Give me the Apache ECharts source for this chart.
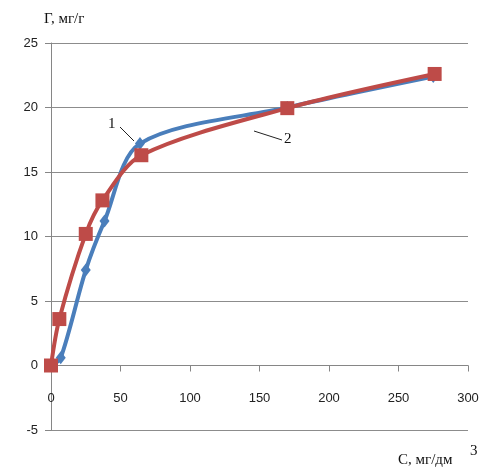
<!DOCTYPE html>
<html>
<head>
<meta charset="utf-8">
<script src="https://cdn.jsdelivr.net/npm/echarts@6/dist/echarts.min.js"></script>
<style>html,body{margin:0;padding:0;background:#fff}#c{width:489px;height:473px}</style>
</head>
<body>
<div id="c"></div>
<script>
var xTicks = [0, 50, 100, 150, 200, 250, 300];
var yTicks = [-5, 0, 5, 10, 15, 20, 25];
var s1X = [0, 7, 25, 38.5, 64, 170, 275];
var s1Y = [0, 0.6, 7.4, 11.2, 17.2, 20, 22.4];
var s2X = [0, 6, 25, 37, 65, 170, 276];
var s2Y = [0, 3.6, 10.2, 12.8, 16.3, 19.95, 22.6];
var seriesNames = ['1', '2'];

function pairs(xs, ys) { return xs.map(function (x, i) { return [x, ys[i]]; }); }

var gridTop = 43, gridBottom = 43, H = 473;
var plotH = H - gridTop - gridBottom;
var yMin = yTicks[0], yMax = yTicks[yTicks.length - 1];
var zeroOffset = -plotH * (0 - yMin) / (yMax - yMin);

var chart = echarts.init(document.getElementById('c'), null, {renderer: 'canvas'});
var tickFont = {fontFamily: 'Liberation Sans', fontSize: 13, color: '#222'};
chart.setOption({
  animation: false,
  grid: {left: 51, top: gridTop, right: 21, bottom: gridBottom, containLabel: false},
  xAxis: {
    type: 'value', min: xTicks[0], max: xTicks[xTicks.length - 1], interval: 50,
    position: 'bottom', offset: zeroOffset,
    axisLine: {show: true, onZero: false, lineStyle: {color: '#868686', width: 1}},
    axisTick: {show: true, length: 6, inside: false, lineStyle: {color: '#868686'}},
    axisLabel: Object.assign({margin: 26}, tickFont),
    splitLine: {show: false}
  },
  yAxis: {
    type: 'value', min: yMin, max: yMax, interval: 5,
    axisLine: {show: true, lineStyle: {color: '#868686', width: 1}},
    axisTick: {show: true, length: 6, lineStyle: {color: '#868686'}},
    axisLabel: Object.assign({margin: 13}, tickFont),
    splitLine: {show: true, lineStyle: {color: '#8c8c8c', width: 1}}
  },
  series: [
    {
      name: seriesNames[0], type: 'line', smooth: 0.3,
      data: pairs(s1X, s1Y),
      symbol: 'diamond', symbolSize: [10, 13],
      lineStyle: {color: '#4a7ebb', width: 4},
      itemStyle: {color: '#4a7ebb'},
      z: 2
    },
    {
      name: seriesNames[1], type: 'line', smooth: 0.3,
      data: pairs(s2X, s2Y),
      symbol: 'rect', symbolSize: 14,
      lineStyle: {color: '#be4b48', width: 4},
      itemStyle: {color: '#be4b48'},
      z: 3
    }
  ],
  graphic: [
    {type: 'text', left: 44, top: 12, style: {text: 'Г, мг/г', font: '15px "Liberation Serif"', fill: '#111'}},
    {type: 'text', left: 398, top: 453, style: {text: 'C, мг/дм', font: '15px "Liberation Serif"', fill: '#111'}},
    {type: 'text', left: 470, top: 444, style: {text: '3', font: '15px "Liberation Serif"', fill: '#111'}},
    {type: 'text', left: 108, top: 117, style: {text: seriesNames[0], font: '15px "Liberation Serif"', fill: '#111'}},
    {type: 'line', shape: {x1: 120, y1: 127, x2: 134, y2: 141}, style: {stroke: '#222', lineWidth: 1}},
    {type: 'text', left: 284, top: 132, style: {text: seriesNames[1], font: '15px "Liberation Serif"', fill: '#111'}},
    {type: 'line', shape: {x1: 254, y1: 131, x2: 282, y2: 140}, style: {stroke: '#222', lineWidth: 1}}
  ]
});
</script>
</body>
</html>
